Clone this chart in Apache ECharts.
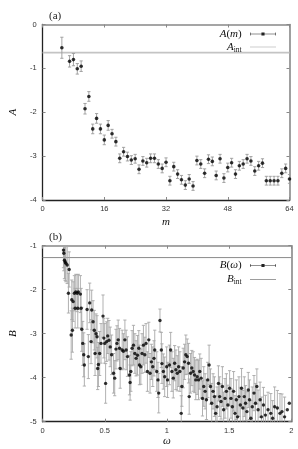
<!DOCTYPE html>
<html><head><meta charset="utf-8">
<script src="https://cdn.jsdelivr.net/npm/echarts@6/dist/echarts.min.js"></script>
<style>html,body{margin:0;padding:0;background:#fff}#c{width:298px;height:449px}</style>
</head><body><div id="c"></div>
<script>
// Panel (a)
const mVals = [5,7,8,9,10,11,12,13,14,15,16,17,18,19,20,21,22,23,24,25,26,27,28,29,30,31,32,33,34,35,36,37,38,39,40,41,42,43,44,45,46,47,48,49,50,51,52,53,54,55,56,57,58,59,60,61,62,63,64];
const aVals = [-0.53,-0.84,-0.80,-1.01,-0.95,-1.92,-1.64,-2.38,-2.14,-2.38,-2.63,-2.30,-2.49,-2.67,-3.05,-2.90,-3.01,-3.09,-3.06,-3.30,-3.11,-3.15,-3.05,-3.05,-3.18,-3.28,-3.14,-3.56,-3.24,-3.41,-3.54,-3.66,-3.52,-3.68,-3.10,-3.18,-3.39,-3.07,-3.12,-3.44,-3.06,-3.50,-3.26,-3.15,-3.41,-3.22,-3.18,-3.06,-3.11,-3.34,-3.22,-3.16,-3.56,-3.56,-3.56,-3.56,-3.39,-3.28,-3.52];
const aErr  = [0.24,0.13,0.14,0.12,0.12,0.12,0.11,0.11,0.11,0.11,0.11,0.11,0.10,0.10,0.10,0.10,0.10,0.10,0.10,0.10,0.10,0.10,0.10,0.10,0.10,0.10,0.10,0.10,0.10,0.10,0.10,0.10,0.10,0.10,0.10,0.10,0.10,0.10,0.10,0.10,0.10,0.10,0.10,0.10,0.10,0.10,0.10,0.10,0.10,0.10,0.10,0.10,0.10,0.10,0.10,0.10,0.10,0.10,0.10];
const aInt = -0.64;
const mTicks = {min:0, max:64, interval:16};
const aTicks = {min:-4, max:0, interval:1};

// Panel (b)
const omega = [0.168,0.171,0.176,0.182,0.187,0.198,0.208,0.214,0.230,0.235,0.240,0.246,0.256,0.262,0.267,0.278,0.283,0.288,0.304,0.310,0.315,0.323,0.331,0.336,0.358,0.368,0.379,0.390,0.395,0.406,0.416,0.422,0.430,0.438,0.443,0.449,0.459,0.470,0.486,0.493,0.500,0.507,0.515,0.524,0.534,0.544,0.555,0.571,0.580,0.590,0.598,0.608,0.619,0.624,0.640,0.650,0.662,0.672,0.683,0.699,0.704,0.710,0.720,0.731,0.742,0.752,0.763,0.774,0.779,0.790,0.800,0.811,0.822,0.832,0.843,0.854,0.864,0.875,0.886,0.896,0.902,0.918,0.928,0.934,0.944,0.955,0.960,0.971,0.982,0.998,1.005,1.020,1.030,1.040,1.051,1.062,1.072,1.083,1.094,1.104,1.115,1.120,1.131,1.142,1.152,1.163,1.174,1.179,1.190,1.200,1.211,1.222,1.232,1.243,1.254,1.264,1.275,1.286,1.296,1.307,1.318,1.328,1.339,1.350,1.360,1.371,1.382,1.392,1.403,1.414,1.424,1.435,1.446,1.456,1.467,1.478,1.490,1.504,1.515,1.526,1.536,1.547,1.558,1.568,1.579,1.590,1.600,1.611,1.622,1.632,1.643,1.654,1.664,1.675,1.686,1.700,1.712,1.723,1.733,1.749,1.760,1.776,1.792,1.813,1.835,1.850,1.866,1.888,1.909,1.925,1.946,1.968,1.984];
const bVals = [-1.10,-1.17,-1.33,-1.37,-1.40,-1.44,-2.08,-1.54,-3.03,-2.23,-2.92,-2.27,-2.08,-2.42,-2.05,-2.08,-2.42,-2.05,-2.10,-2.42,-2.90,-3.22,-3.48,-3.71,-2.45,-3.52,-2.30,-3.18,-2.46,-2.73,-2.92,-3.45,-3.00,-3.07,-3.79,-3.70,-3.45,-3.22,-2.60,-3.10,-3.22,-4.13,-3.18,-3.05,-3.15,-3.30,-3.48,-3.90,-4.01,-3.35,-3.22,-3.14,-3.33,-3.79,-3.37,-3.40,-3.14,-3.37,-3.52,-3.94,-4.11,-3.86,-3.33,-3.26,-3.45,-3.56,-3.49,-3.33,-3.71,-3.75,-3.45,-3.26,-3.48,-3.22,-3.86,-3.14,-3.90,-3.64,-3.75,-3.56,-3.37,-3.86,-4.05,-4.35,-2.70,-3.37,-3.68,-3.86,-3.98,-3.75,-4.05,-3.71,-3.37,-3.86,-4.01,-3.67,-3.82,-3.90,-3.75,-3.86,-4.81,-4.20,-3.78,-3.64,-3.48,-3.52,-3.67,-4.43,-3.90,-3.78,-3.86,-3.94,-4.05,-3.98,-4.05,-3.86,-4.01,-4.47,-4.20,-4.31,-4.50,-4.05,-3.71,-4.20,-4.58,-4.31,-4.43,-4.81,-4.66,-4.13,-4.43,-4.54,-4.20,-4.73,-4.47,-4.31,-4.62,-4.24,-4.47,-4.66,-4.31,-4.81,-4.50,-4.89,-4.43,-4.62,-4.24,-4.69,-4.43,-4.58,-4.77,-4.28,-4.50,-4.92,-4.66,-4.35,-4.58,-4.20,-4.73,-4.50,-4.89,-4.62,-4.85,-4.73,-4.81,-4.92,-4.66,-4.69,-4.81,-4.77,-4.89,-4.73,-4.58];
const bErr = [0.40,0.40,0.42,0.42,0.42,0.42,0.45,0.40,0.55,0.45,0.50,0.45,0.40,0.45,0.40,0.42,0.45,0.40,0.42,0.45,0.50,0.50,0.50,0.48,0.45,0.50,0.45,0.50,0.45,0.48,0.45,0.50,0.45,0.48,0.48,0.50,0.50,0.45,0.48,0.45,0.45,0.45,0.45,0.40,0.45,0.45,0.45,0.45,0.40,0.45,0.40,0.45,0.45,0.45,0.45,0.40,0.45,0.45,0.45,0.45,0.40,0.45,0.40,0.45,0.45,0.40,0.45,0.40,0.45,0.40,0.45,0.45,0.40,0.45,0.45,0.40,0.45,0.40,0.45,0.40,0.45,0.45,0.40,0.45,0.26,0.40,0.45,0.40,0.45,0.45,0.40,0.45,0.40,0.45,0.45,0.40,0.45,0.40,0.45,0.45,0.40,0.45,0.45,0.40,0.45,0.40,0.45,0.40,0.45,0.40,0.45,0.40,0.45,0.40,0.45,0.40,0.45,0.40,0.45,0.40,0.45,0.40,0.45,0.40,0.45,0.40,0.45,0.40,0.45,0.40,0.45,0.40,0.45,0.40,0.45,0.40,0.45,0.40,0.45,0.40,0.45,0.40,0.45,0.40,0.45,0.40,0.45,0.40,0.45,0.40,0.45,0.40,0.45,0.40,0.45,0.40,0.45,0.40,0.45,0.40,0.45,0.40,0.45,0.40,0.45,0.40,0.45,0.40,0.45,0.40,0.45];
const bInt = -1.27;
const wTicks = {min:0, max:2, interval:0.5};
const bTicks = {min:-5, max:-1, interval:1};

const aPts = mVals.map((m,i)=>[m, aVals[i], aErr[i]]);
const bPts = omega.map((w,i)=>[w, bVals[i], bErr[i]]);

function errBar(color){
  return function(params, api){
    const x=api.value(0), y=api.value(1), e=api.value(2);
    const t=api.coord([x,y+e]), b=api.coord([x,y-e]);
    const c=1.6;
    const st={stroke:color, lineWidth:0.9};
    return {type:'group', children:[
      {type:'line', shape:{x1:t[0],y1:t[1],x2:b[0],y2:b[1]}, style:st},
      {type:'line', shape:{x1:t[0]-c,y1:t[1],x2:t[0]+c,y2:t[1]}, style:st},
      {type:'line', shape:{x1:b[0]-c,y1:b[1],x2:b[0]+c,y2:b[1]}, style:st}
    ]};
  };
}

const serif = 'Liberation Serif';
const sans = 'Liberation Sans';
const rich = {
  i:{fontFamily:serif, fontStyle:'italic', fontSize:11, lineHeight:14, color:'#111'},
  u:{fontFamily:serif, fontSize:11, lineHeight:14, color:'#111'},
  s:{fontFamily:serif, fontSize:7.5, lineHeight:7, verticalAlign:'bottom', color:'#111'}
};
const fmt = {
  'A(m)':'{i|A}{u|(}{i|m}{u|)} ',
  'A_int':'{i|A}{s|int} ',
  'B(ω)':'{i|B}{u|(}{i|ω}{u|)} ',
  'B_int':'{i|B}{s|int} '
};
const dotIcon = 'path://M0,3.5h50v1h-50z M0,1h1v6h-1z M49,1h1v6h-1z M22,1h6v6h-6z';
const lineIcon = 'path://M0,0h50v1.6h-50z';

function mkX(grid, t, pos, name, gap, main){
  return {type:'value', gridIndex:grid, position:pos, min:t.min, max:t.max, interval:t.interval,
    name: main?name:'', nameLocation:'middle', nameGap:gap,
    nameTextStyle:{fontFamily:serif, fontStyle:'italic', fontSize:11, color:'#111'},
    axisLine:{show:true, onZero:false, lineStyle:{color: main?'#222':'#888', width: main?1.3:1.6}},
    axisTick:{show:true, inside:true, length:3, lineStyle:{color:'#888'}},
    axisLabel:{show:main, fontFamily:sans, fontSize:7.5, color:'#333', margin:5},
    splitLine:{show:false}};
}
function mkY(grid, t, pos, name, main){
  return {type:'value', gridIndex:grid, position:pos, min:t.min, max:t.max, interval:t.interval,
    name: main?name:'', nameLocation:'middle', nameGap:14,
    nameTextStyle:{fontFamily:serif, fontStyle:'italic', fontSize:11, color:'#111'},
    axisLine:{show:true, onZero:false, lineStyle:{color: main?'#222':'#888', width: main?1.3:1.6}},
    axisTick:{show:true, inside:true, length:3, lineStyle:{color:'#888'}},
    axisLabel:{show:main, fontFamily:sans, fontSize:7.5, color:'#333', margin:6},
    splitLine:{show:false}};
}

const chart = echarts.init(document.getElementById('c'), null, {renderer:'canvas'});
chart.setOption({
  backgroundColor:'#fff',
  animation:false,
  title:[
    {text:'(a)', left:44, top:6, textStyle:{fontFamily:serif, fontSize:11, fontWeight:'normal', color:'#222'}},
    {text:'(b)', left:44, top:227, textStyle:{fontFamily:serif, fontSize:11, fontWeight:'normal', color:'#222'}}
  ],
  grid:[
    {left:39.5, top:24.5, width:250, height:175.5},
    {left:41.3, top:245.7, width:250, height:176}
  ],
  legend:[
    {orient:'vertical', right:17, top:23, align:'right', itemGap:1, itemWidth:26, itemHeight:4,
     data:[{name:'A(m)', icon:dotIcon},{name:'A_int', icon:lineIcon}],
     formatter:n=>fmt[n], textStyle:{rich:rich}},
    {orient:'vertical', right:17, top:254.5, align:'right', itemGap:2, itemWidth:26, itemHeight:4,
     data:[{name:'B(ω)', icon:dotIcon},{name:'B_int', icon:lineIcon}],
     formatter:n=>fmt[n], textStyle:{rich:rich}}
  ],
  xAxis:[
    mkX(0, mTicks, 'bottom', 'm', 17, true),
    mkX(0, mTicks, 'top', '', 0, false),
    mkX(1, wTicks, 'bottom', 'ω', 10, true),
    mkX(1, wTicks, 'top', '', 0, false)
  ],
  yAxis:[
    mkY(0, aTicks, 'left', 'A', true),
    mkY(0, aTicks, 'right', '', false),
    mkY(1, bTicks, 'left', 'B', true),
    mkY(1, bTicks, 'right', '', false)
  ],
  series:[
    {name:'A_int', type:'line', xAxisIndex:0, yAxisIndex:0, data:[[mTicks.min,aInt],[mTicks.max,aInt]],
     symbol:'none', lineStyle:{color:'#c4c4c4', width:1.6}, itemStyle:{color:'#c4c4c4'}, z:1},
    {name:'A(m)', type:'custom', xAxisIndex:0, yAxisIndex:0, data:aPts, renderItem:errBar('#9a9a9a'),
     encode:{x:0,y:1}, clip:true, itemStyle:{color:'#222'}, z:2},
    {name:'A(m)', type:'scatter', xAxisIndex:0, yAxisIndex:0, data:aPts, symbol:'circle', symbolSize:3.6,
     itemStyle:{color:'#000'}, z:3},
    {name:'B_int', type:'line', xAxisIndex:2, yAxisIndex:2, data:[[wTicks.min,bInt],[wTicks.max,bInt]],
     symbol:'none', lineStyle:{color:'#8a8a8a', width:1}, itemStyle:{color:'#8a8a8a'}, z:1},
    {name:'B(ω)', type:'custom', xAxisIndex:2, yAxisIndex:2, data:bPts, renderItem:errBar('#a8a8a8'),
     encode:{x:0,y:1}, clip:true, itemStyle:{color:'#222'}, z:2},
    {name:'B(ω)', type:'scatter', xAxisIndex:2, yAxisIndex:2, data:bPts, symbol:'circle', symbolSize:3.4,
     itemStyle:{color:'#000'}, z:3, clip:true}
  ]
});
</script></body></html>
